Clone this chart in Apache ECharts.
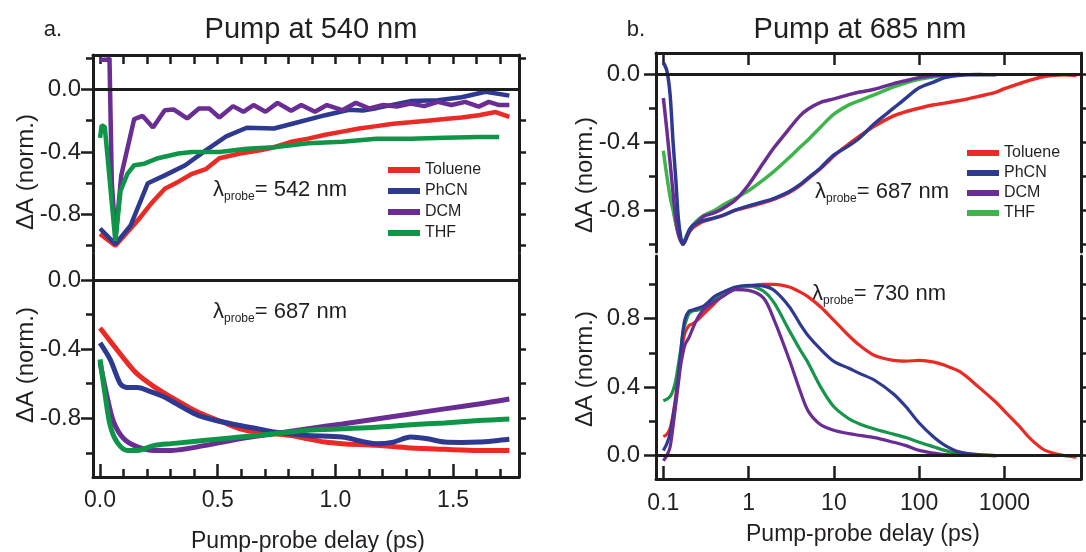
<!DOCTYPE html>
<html><head><meta charset="utf-8">
<script src="https://cdn.jsdelivr.net/npm/echarts@6/dist/echarts.min.js"></script>
<style>html,body{margin:0;padding:0;background:#fff}#c{width:1086px;height:552px}</style>
</head><body><div id="c"></div>
<script>
// ---------- DATA ----------
const solvents = ['Toluene', 'PhCN', 'DCM', 'THF'];

// Panel a (pump 540 nm), top: probe 542 nm, delay in ps
const a542_Toluene_x = [0, 0.065, 0.159, 0.217, 0.275, 0.333, 0.391, 0.449, 0.507, 0.594, 0.681, 0.739, 0.812, 0.884, 0.957, 1.029, 1.101, 1.174, 1.246, 1.319, 1.391, 1.464, 1.536, 1.609, 1.681, 1.739];
const a542_Toluene_y = [-0.924, -1.0, -0.84, -0.73, -0.635, -0.59, -0.54, -0.51, -0.44, -0.41, -0.39, -0.37, -0.335, -0.315, -0.29, -0.27, -0.25, -0.235, -0.22, -0.21, -0.20, -0.19, -0.18, -0.165, -0.145, -0.175];
const a542_PhCN_x = [0, 0.065, 0.13, 0.203, 0.275, 0.362, 0.449, 0.536, 0.623, 0.739, 0.841, 0.957, 1.058, 1.116, 1.174, 1.319, 1.435, 1.536, 1.638, 1.739];
const a542_PhCN_y = [-0.89, -0.99, -0.87, -0.60, -0.55, -0.485, -0.39, -0.30, -0.245, -0.25, -0.21, -0.165, -0.13, -0.135, -0.12, -0.075, -0.07, -0.05, -0.015, -0.04];
const a542_DCM_x = [0, 0.03, 0.04, 0.05, 0.066, 0.09, 0.145, 0.181, 0.225, 0.275, 0.312, 0.37, 0.42, 0.464, 0.507, 0.565, 0.609, 0.652, 0.703, 0.754, 0.812, 0.855, 0.913, 0.964, 1.029, 1.087, 1.145, 1.203, 1.261, 1.319, 1.377, 1.435, 1.493, 1.551, 1.609, 1.652, 1.696, 1.739];
const a542_DCM_y = [0.19, 0.19, 0.2, -0.6, -0.95, -0.55, -0.19, -0.17, -0.244, -0.133, -0.128, -0.186, -0.122, -0.122, -0.18, -0.107, -0.143, -0.10, -0.143, -0.086, -0.137, -0.10, -0.143, -0.10, -0.133, -0.086, -0.122, -0.10, -0.11, -0.09, -0.107, -0.08, -0.10, -0.08, -0.11, -0.08, -0.10, -0.10];
const a542_THF_x = [0, 0.007, 0.02, 0.065, 0.087, 0.116, 0.145, 0.188, 0.246, 0.333, 0.391, 0.507, 0.623, 0.739, 0.884, 1.029, 1.174, 1.319, 1.464, 1.609, 1.696];
const a542_THF_y = [-0.31, -0.23, -0.24, -0.97, -0.65, -0.54, -0.485, -0.475, -0.44, -0.41, -0.40, -0.40, -0.38, -0.37, -0.345, -0.335, -0.315, -0.315, -0.31, -0.305, -0.305];

// Panel a, bottom: probe 687 nm
const a687_Toluene_x = [0, 0.058, 0.116, 0.159, 0.232, 0.304, 0.377, 0.449, 0.522, 0.594, 0.667, 0.739, 0.812, 0.884, 0.957, 1.029, 1.174, 1.319, 1.464, 1.609, 1.739];
const a687_Toluene_y = [-0.278, -0.38, -0.48, -0.545, -0.62, -0.68, -0.737, -0.785, -0.823, -0.861, -0.88, -0.89, -0.90, -0.919, -0.938, -0.947, -0.957, -0.972, -0.98, -0.986, -0.986];
const a687_PhCN_x = [0, 0.043, 0.087, 0.116, 0.159, 0.203, 0.261, 0.304, 0.362, 0.42, 0.493, 0.594, 0.667, 0.739, 0.812, 0.884, 1.029, 1.174, 1.246, 1.319, 1.391, 1.464, 1.536, 1.609, 1.681, 1.739];
const a687_PhCN_y = [-0.364, -0.46, -0.603, -0.622, -0.622, -0.64, -0.67, -0.70, -0.746, -0.785, -0.813, -0.842, -0.86, -0.88, -0.89, -0.90, -0.909, -0.947, -0.938, -0.909, -0.919, -0.938, -0.94, -0.938, -0.93, -0.922];
const a687_DCM_x = [0, 0.029, 0.058, 0.101, 0.159, 0.232, 0.304, 0.449, 0.594, 0.739, 0.884, 1.029, 1.174, 1.319, 1.464, 1.609, 1.739];
const a687_DCM_y = [-0.478, -0.67, -0.823, -0.919, -0.966, -0.986, -0.986, -0.957, -0.919, -0.89, -0.861, -0.833, -0.804, -0.775, -0.746, -0.718, -0.689];
const a687_THF_x = [0, 0.022, 0.043, 0.072, 0.116, 0.159, 0.232, 0.304, 0.449, 0.594, 0.739, 0.884, 1.029, 1.174, 1.319, 1.464, 1.609, 1.739];
const a687_THF_y = [-0.46, -0.67, -0.842, -0.938, -0.986, -0.986, -0.957, -0.947, -0.928, -0.909, -0.89, -0.87, -0.861, -0.852, -0.838, -0.827, -0.813, -0.804];

// Panel b (pump 685 nm): common delays (ps, log axis)
const bDelay = [0.1, 0.11, 0.12, 0.13, 0.14, 0.15, 0.16, 0.17, 0.18, 0.2, 0.22, 0.25, 0.3, 0.4, 0.5, 0.7, 1, 1.5, 2, 3, 4, 5, 7, 10, 15, 20, 30, 50, 70, 100, 150, 200, 300, 500, 800, 1000, 1500, 2000, 3000, 5000, 7000];
// top: probe 687 nm
const b687_Toluene = [null, null, null, -0.78, -0.87, -0.94, -0.98, -1.0, -0.98, -0.93, -0.905, -0.885, -0.865, -0.845, -0.83, -0.80, -0.78, -0.755, -0.735, -0.695, -0.655, -0.615, -0.555, -0.48, -0.41, -0.365, -0.305, -0.245, -0.22, -0.2, -0.18, -0.17, -0.155, -0.13, -0.105, -0.085, -0.055, -0.035, -0.012, -0.003, -0.008];
const b687_PhCN = [0.07, 0.02, -0.12, -0.4, -0.62, -0.85, -0.96, -1.0, -0.98, -0.92, -0.89, -0.875, -0.86, -0.845, -0.83, -0.80, -0.775, -0.75, -0.73, -0.69, -0.65, -0.61, -0.55, -0.475, -0.42, -0.375, -0.29, -0.2, -0.14, -0.08, -0.045, -0.02, -0.006, -0.002, -0.003, null, null, null, null, null, null];
const b687_DCM = [-0.14, -0.33, -0.52, -0.7, -0.85, -0.94, -0.98, -1.0, -0.98, -0.93, -0.9, -0.87, -0.835, -0.815, -0.79, -0.74, -0.65, -0.52, -0.43, -0.32, -0.245, -0.205, -0.165, -0.145, -0.12, -0.105, -0.088, -0.055, -0.038, -0.02, -0.008, -0.004, -0.002, null, null, null, null, null, null, null, null];
const b687_THF = [-0.45, -0.6, -0.72, -0.8, -0.88, -0.94, -0.98, -0.99, -0.97, -0.92, -0.89, -0.86, -0.83, -0.80, -0.77, -0.73, -0.685, -0.62, -0.57, -0.49, -0.43, -0.385, -0.31, -0.235, -0.18, -0.155, -0.12, -0.075, -0.05, -0.03, -0.015, -0.007, -0.003, null, null, null, null, null, null, null, null];
// bottom: probe 730 nm
const b730_Toluene = [0.11, 0.125, 0.16, 0.24, 0.35, 0.47, 0.58, 0.67, 0.72, 0.76, 0.77, 0.79, 0.83, 0.89, 0.935, 0.975, 0.99, 1.0, 1.0, 0.985, 0.956, 0.927, 0.868, 0.79, 0.70, 0.644, 0.585, 0.556, 0.552, 0.556, 0.546, 0.527, 0.49, 0.40, 0.31, 0.26, 0.17, 0.10, 0.03, 0.0, -0.01];
const b730_PhCN = [0.03, 0.07, 0.13, 0.23, 0.33, 0.46, 0.6, 0.73, 0.8, 0.845, 0.85, 0.86, 0.875, 0.93, 0.955, 0.985, 0.995, 0.99, 0.965, 0.87, 0.77, 0.70, 0.62, 0.55, 0.51, 0.48, 0.44, 0.36, 0.285, 0.19, 0.105, 0.06, 0.02, 0.005, 0.0, null, null, null, null, null, null];
const b730_DCM = [-0.03, 0.0, 0.05, 0.17, 0.3, 0.42, 0.53, 0.6, 0.65, 0.69, 0.74, 0.8, 0.855, 0.9, 0.93, 0.97, 0.965, 0.92, 0.79, 0.56, 0.38, 0.26, 0.18, 0.148, 0.128, 0.118, 0.105, 0.078, 0.058, 0.03, 0.014, 0.006, 0.003, 0.001, 0.0, null, null, null, null, null, null];
const b730_THF = [0.32, 0.33, 0.345, 0.38, 0.44, 0.53, 0.62, 0.72, 0.77, 0.83, 0.845, 0.85, 0.86, 0.91, 0.935, 0.975, 0.99, 0.96, 0.89, 0.73, 0.62, 0.54, 0.40, 0.285, 0.215, 0.185, 0.155, 0.125, 0.105, 0.078, 0.05, 0.03, 0.01, 0.0, null, null, null, null, null, null, null];

// Axis ranges and ticks
const aDelayRange = [-0.03, 1.78];
const bDelayRange = [0.082, 7900];
const aDelayMajor = [0, 0.5, 1.0, 1.5];
const aDelayMinor = [0.1, 0.2, 0.3, 0.4, 0.6, 0.7, 0.8, 0.9, 1.1, 1.2, 1.3, 1.4, 1.6, 1.7];
const bDelayTicks = [0.1, 1, 10, 100, 1000];
const yRangeA542 = [-1.04, 0.22];
const yRangeA687 = [-1.14, 0.15];
const yRangeB687 = [-1.046, 0.125];
const yRangeB730 = [-0.137, 1.166];
const yMajorNeg = [0, -0.4, -0.8];
const yMinorNeg = [0.2, -0.2, -0.6, -1.0];
const yMajorPos = [0, 0.4, 0.8];
const yMinorPos = [0.2, 0.6, 1.0];

// ---------- STYLE ----------
const FONT = "'Liberation Sans', Arial, Helvetica, sans-serif";
const INK = '#1c1c1c';
const TXT = '#231f20';
const colA = { Toluene: '#ec2a25', PhCN: '#2e3a92', DCM: '#6a2d94', THF: '#0f9548' };
const colB = { Toluene: '#ec2a25', PhCN: '#2e3a92', DCM: '#6a2d94', THF: '#3db54a' };
const AXW = 3;

const grids = [
  { left: 93, top: 55, width: 426, height: 197 },
  { left: 93, top: 254, width: 426, height: 223 },
  { left: 656, top: 53, width: 425, height: 199 },
  { left: 656, top: 256, width: 425, height: 223 }
];

const lineS = { color: INK, width: AXW };
const tickS = { color: INK, width: 2.5 };
const yFmt = v => (Math.abs(v) < 1e-9 ? '0.0' : v.toFixed(1));
const bFmt = v => (v < 1 ? v.toFixed(1) : String(Math.round(v)));

function yAxesFor(gi, range, major, minor, margin, rightZero) {
  const inR = a => a.filter(v => v >= range[0] && v <= range[1]);
  const right = inR(major.concat(minor)).filter(v => rightZero || v !== 0);
  return [
    { type: 'value', gridIndex: gi, position: 'left', min: range[0], max: range[1],
      axisLine: { show: true, onZero: false, lineStyle: lineS },
      axisTick: { show: true, inside: false, length: 12, customValues: inR(major), lineStyle: tickS },
      axisLabel: { show: true, customValues: inR(major), formatter: yFmt, margin: margin,
                   fontSize: 24, fontFamily: FONT, color: TXT },
      splitLine: { show: false } },
    { type: 'value', gridIndex: gi, position: 'left', min: range[0], max: range[1],
      axisLine: { show: false, onZero: false },
      axisTick: { show: true, inside: false, length: 7, customValues: inR(minor), lineStyle: tickS },
      axisLabel: { show: false }, splitLine: { show: false } },
    { type: 'value', gridIndex: gi, position: 'right', min: range[0], max: range[1],
      axisLine: { show: true, onZero: false, lineStyle: lineS },
      axisTick: { show: true, inside: false, length: 7, customValues: right, lineStyle: tickS },
      axisLabel: { show: false }, splitLine: { show: false } }
  ];
}

const xAxes = [
  { type: 'value', gridIndex: 0, min: aDelayRange[0], max: aDelayRange[1], show: false },
  { type: 'value', gridIndex: 0, position: 'top', min: aDelayRange[0], max: aDelayRange[1],
    axisLine: { show: true, onZero: false, lineStyle: lineS },
    axisTick: { show: true, inside: true, length: 9, customValues: aDelayMajor.concat(aDelayMinor), lineStyle: tickS },
    axisLabel: { show: false }, splitLine: { show: false } },
  { type: 'value', gridIndex: 1, position: 'bottom', min: aDelayRange[0], max: aDelayRange[1],
    axisLine: { show: true, onZero: false, lineStyle: lineS },
    axisTick: { show: true, inside: true, length: 13, customValues: aDelayMajor, lineStyle: tickS },
    axisLabel: { show: true, customValues: aDelayMajor, formatter: v => v.toFixed(1), margin: 12,
                 fontSize: 23, fontFamily: FONT, color: TXT },
    splitLine: { show: false } },
  { type: 'value', gridIndex: 1, position: 'bottom', min: aDelayRange[0], max: aDelayRange[1],
    axisLine: { show: false, onZero: false },
    axisTick: { show: true, inside: true, length: 8, customValues: aDelayMinor, lineStyle: tickS },
    axisLabel: { show: false }, splitLine: { show: false } },
  { type: 'log', gridIndex: 2, min: bDelayRange[0], max: bDelayRange[1], show: false },
  { type: 'log', gridIndex: 2, position: 'top', min: bDelayRange[0], max: bDelayRange[1],
    axisLine: { show: true, onZero: false, lineStyle: lineS },
    axisTick: { show: true, inside: true, length: 12, customValues: bDelayTicks, lineStyle: tickS },
    axisLabel: { show: false }, splitLine: { show: false } },
  { type: 'log', gridIndex: 3, position: 'bottom', min: bDelayRange[0], max: bDelayRange[1],
    axisLine: { show: true, onZero: false, lineStyle: lineS },
    axisTick: { show: true, inside: true, length: 13, customValues: bDelayTicks, lineStyle: tickS },
    axisLabel: { show: true, customValues: bDelayTicks, formatter: bFmt, margin: 13,
                 fontSize: 23, fontFamily: FONT, color: TXT },
    splitLine: { show: false } }
];

const yAxes = [].concat(
  yAxesFor(0, yRangeA542, yMajorNeg, yMinorNeg, 12, false),
  yAxesFor(1, yRangeA687, yMajorNeg, yMinorNeg, 12, false),
  yAxesFor(2, yRangeB687, yMajorNeg, yMinorNeg, 16, true),
  yAxesFor(3, yRangeB730, yMajorPos, yMinorPos, 16, true)
);

function zip(xs, ys) {
  const out = [];
  for (let i = 0; i < xs.length; i++) if (ys[i] !== null && ys[i] !== undefined) out.push([xs[i], ys[i]]);
  return out;
}
const zeroLine = {
  silent: true, symbol: 'none', animation: false, label: { show: false },
  lineStyle: { color: INK, width: 3, type: 'solid' }, emphasis: { disabled: true },
  data: [{ yAxis: 0 }]
};
function mk(name, data, xi, yi, color, width, smooth, withZero) {
  const s = { type: 'line', name: name, data: data, xAxisIndex: xi, yAxisIndex: yi,
    symbol: 'none', showSymbol: false, smooth: smooth, lineStyle: { color: color, width: width },
    itemStyle: { color: color }, emphasis: { disabled: true } };
  if (withZero) s.markLine = zeroLine;
  return s;
}

const series = [
  mk('Toluene', zip(a542_Toluene_x, a542_Toluene_y), 0, 0, colA.Toluene, 4.5, false, true),
  mk('PhCN', zip(a542_PhCN_x, a542_PhCN_y), 0, 0, colA.PhCN, 4.5, false, false),
  mk('DCM', zip(a542_DCM_x, a542_DCM_y), 0, 0, colA.DCM, 4.5, false, false),
  mk('THF', zip(a542_THF_x, a542_THF_y), 0, 0, colA.THF, 4.5, false, false),

  mk('Toluene', zip(a687_Toluene_x, a687_Toluene_y), 2, 3, colA.Toluene, 5, 0.3, true),
  mk('PhCN', zip(a687_PhCN_x, a687_PhCN_y), 2, 3, colA.PhCN, 5, 0.3, false),
  mk('DCM', zip(a687_DCM_x, a687_DCM_y), 2, 3, colA.DCM, 5, 0.3, false),
  mk('THF', zip(a687_THF_x, a687_THF_y), 2, 3, colA.THF, 5, 0.3, false),

  mk('Toluene', zip(bDelay, b687_Toluene), 4, 6, colB.Toluene, 3.5, 0.3, true),
  mk('THF', zip(bDelay, b687_THF), 4, 6, colB.THF, 3.5, 0.3, false),
  mk('DCM', zip(bDelay, b687_DCM), 4, 6, colB.DCM, 3.5, 0.3, false),
  mk('PhCN', zip(bDelay, b687_PhCN), 4, 6, colB.PhCN, 3.5, 0.3, false),

  mk('Toluene', zip(bDelay, b730_Toluene), 6, 9, colB.Toluene, 3.2, 0.3, true),
  mk('THF', zip(bDelay, b730_THF), 6, 9, '#17954a', 3.2, 0.3, false),
  mk('PhCN', zip(bDelay, b730_PhCN), 6, 9, colB.PhCN, 3.2, 0.3, false),
  mk('DCM', zip(bDelay, b730_DCM), 6, 9, colB.DCM, 3.2, 0.3, false)
];

function legendFor(left, top, cols, gap) {
  return { left: left, top: top, orient: 'vertical', icon: 'rect', itemWidth: 32, itemHeight: 6,
    itemGap: gap, selectedMode: false, padding: 0,
    textStyle: { fontSize: 16, fontFamily: FONT, color: TXT, lineHeight: 18 },
    data: solvents.map(n => ({ name: n, itemStyle: { color: cols[n] } })) };
}

function txt(x, y, text, size, extra) {
  return Object.assign({ type: 'text', x: x, y: y, silent: true,
    style: { text: text, fontSize: size, fontFamily: FONT, fill: TXT, align: 'center', verticalAlign: 'middle' } }, extra || {});
}
function probe(x, y, nm) {
  return { type: 'text', x: x, y: y, silent: true,
    style: { text: '{l|λ}{s|probe}{n|= ' + nm + ' nm}', fontFamily: FONT, fill: TXT,
      align: 'left', verticalAlign: 'middle',
      rich: {
        l: { fontSize: 22, fontFamily: FONT, fill: TXT, lineHeight: 26 },
        s: { fontSize: 12, fontFamily: FONT, fill: TXT, verticalAlign: 'bottom' },
        n: { fontSize: 22, fontFamily: FONT, fill: TXT, lineHeight: 26 }
      } } };
}

const graphic = [
  txt(311, 30, 'Pump at 540 nm', 29),
  txt(860, 30, 'Pump at 685 nm', 29),
  txt(53, 30, 'a.', 22),
  txt(636, 30, 'b.', 22),
  txt(26, 172, 'ΔA (norm.)', 24, { rotation: Math.PI / 2 }),
  txt(26, 365, 'ΔA (norm.)', 24, { rotation: Math.PI / 2 }),
  txt(585, 175, 'ΔA (norm.)', 24, { rotation: Math.PI / 2 }),
  txt(585, 369, 'ΔA (norm.)', 24, { rotation: Math.PI / 2 }),
  txt(308, 542, 'Pump-probe delay (ps)', 23),
  txt(863, 535, 'Pump-probe delay (ps)', 23),
  probe(213, 190, '542'),
  probe(213, 312, '687'),
  probe(815, 192, '687'),
  probe(812, 294, '730')
];

const chart = echarts.init(document.getElementById('c'), null, { renderer: 'canvas' });
chart.setOption({
  animation: false,
  backgroundColor: '#ffffff',
  grid: grids,
  xAxis: xAxes,
  yAxis: yAxes,
  legend: [legendFor(388, 161, colA, 3), legendFor(967, 144, colB, 2)],
  graphic: graphic,
  series: series
});
</script>
</body></html>
